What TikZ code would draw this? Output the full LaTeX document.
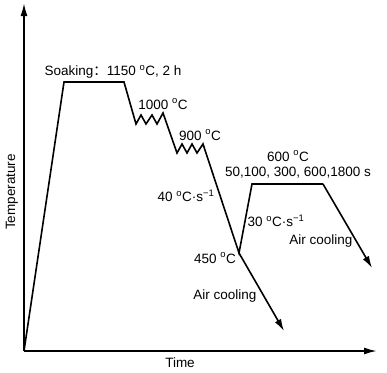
\documentclass[tikz,border=0pt]{standalone}
\usepackage{fontspec}
\setmainfont{Liberation Sans}
\newfontfamily\cjk{Noto Sans CJK SC}
\usetikzlibrary{arrows.meta}
\newcommand{\dgC}{\textsuperscript{o}C}
\newcommand{\pers}{\textperiodcentered s\textsuperscript{−1}}
\begin{document}
\begin{tikzpicture}[x=1pt,y=-1pt,
  lbl/.style={inner sep=0pt,font=\fontsize{13.5}{16}\selectfont},
  curve/.style={line width=1.6pt,line join=miter},
  axis/.style={line width=1.8pt,-{Latex[length=13pt,width=7pt]}},
  arr/.style={curve,-{Latex[length=12pt,width=7pt]}}]
\useasboundingbox (0,0) rectangle (387,372);
% axes
\coordinate (O) at (24,351);
\coordinate (ytop) at (24,3);
\coordinate (xend) at (377,351);
\draw[axis] (O) -- (ytop);
\draw[axis] (O) -- (xend);
% key points
\coordinate (s1) at (64,82);
\coordinate (s2) at (124,82);
\coordinate (z1a) at (136,124);
\coordinate (z1b) at (163,113);
\coordinate (z2a) at (177,153);
\coordinate (z2b) at (203,144);
\coordinate (p450) at (239,253);
\coordinate (h1) at (252,184);
\coordinate (h2) at (323,184);
\coordinate (e1) at (372,268);
\coordinate (e2) at (284,331);
\draw[curve] (O) -- (s1) -- (s2) -- (z1a)
  -- (141,115) -- (146,124) -- (152,115) -- (157,124) -- (z1b)
  -- (z2a)
  -- (182,144) -- (187,153) -- (192,144) -- (197,153) -- (z2b)
  -- (p450) -- (h1) -- (h2);
\draw[arr] (h2) -- (e1);
\draw[arr] (p450) -- (e2);
% labels
\node[lbl] (tsoak) at (113,72) {Soaking{\cjk ：}1150 \dgC, 2 h};
\node[lbl] (t1000) at (163,104) {1000 \dgC};
\node[lbl] (t900) at (200,135) {900 \dgC};
\node[lbl] (t600) at (288,156) {600 \dgC};
\node[lbl] (ttimes) at (298,173) {50,100, 300, 600,1800 s};
\node[lbl] (t40) at (186,196) {40 \dgC\pers};
\node[lbl] (t30) at (276,221) {30 \dgC\pers};
\node[lbl] (tair1) at (321,241) {Air cooling};
\node[lbl] (t450) at (215,258) {450 \dgC};
\node[lbl] (tair2) at (225,296) {Air cooling};
\node[lbl] (ttime) at (180,363) {Time};
\node[lbl,rotate=90] (ttemp) at (12,192) {Temperature};
\end{tikzpicture}
\end{document}
